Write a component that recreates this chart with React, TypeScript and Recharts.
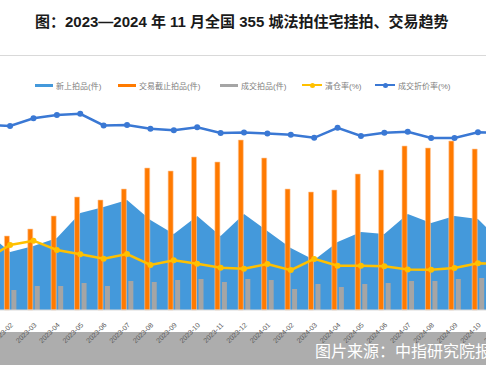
import { ComposedChart, Area, Bar, Line, XAxis, YAxis } from "recharts";

const months = [
  "2023-01", "2023-02", "2023-03", "2023-04", "2023-05", "2023-06", "2023-07", "2023-08",
  "2023-09", "2023-10", "2023-11", "2023-12", "2024-01", "2024-02", "2024-03", "2024-04",
  "2024-05", "2024-06", "2024-07", "2024-08", "2024-09", "2024-10", "2024-11",
];

// 件
const newListings = [
  15600, 11600, 12800, 14400, 19400, 20600, 22000, 18000, 15200, 18800, 14800, 19200,
  15800, 12400, 10000, 13600, 15600, 15200, 19200, 17400, 18800, 18200, 13600,
];
const endedAuctions = [
  12000, 14800, 16200, 18800, 22600, 22000, 24200, 28400, 27800, 30600, 29600, 34000,
  30400, 24200, 23600, 24000, 27200, 28000, 32800, 32400, 33800, 32200, 31000,
];
const deals = [
  3600, 4000, 4800, 4800, 5400, 4800, 5800, 5600, 6000, 6200, 5600, 6200,
  6000, 4200, 5200, 4600, 5200, 5400, 5800, 5800, 6200, 6400, 6000,
];

// %
const clearanceRate = [
  21.9, 27.9, 29.7, 25.7, 23.9, 22.0, 24.0, 19.3, 21.3, 19.8, 18.1, 17.7,
  19.7, 17.1, 21.9, 19.0, 19.0, 18.7, 17.4, 17.3, 18.0, 20.0, 19.7,
];
const discountRate = [
  79.3, 78.9, 82.2, 83.6, 84.1, 79.1, 79.3, 77.7, 77.0, 78.3, 75.9, 76.1,
  75.6, 75.1, 73.8, 78.1, 74.6, 76.0, 76.4, 73.7, 73.7, 76.2, 75.9,
];

const data = months.map((month, i) => ({
  month,
  newListings: newListings[i],
  endedAuctions: endedAuctions[i],
  deals: deals[i],
  clearanceRate: clearanceRate[i],
  discountRate: discountRate[i],
}));

const BLUE_AREA = "#4499db";
const ORANGE = "#ff7a00";
const GRAY = "#a5a5a5";
const YELLOW = "#ffc000";
const BLUE_LINE = "#3a78d4";

const font = "'Liberation Sans', 'Noto Sans CJK SC', sans-serif";

function MonthTick({ x, y, payload }: any) {
  return (
    <g transform={`translate(${x + 2},${y + 6})`}>
      <text x={0} y={0} dy={2} textAnchor="end" transform="rotate(-45)" fontSize={7} fill="#595959" fontFamily={font}>
        {payload.value}
      </text>
    </g>
  );
}

const legendItems = [
  { label: "新上拍品(件)", color: BLUE_AREA, left: 35, kind: "box" },
  { label: "交易截止拍品(件)", color: ORANGE, left: 118, kind: "box" },
  { label: "成交拍品(件)", color: GRAY, left: 220, kind: "box" },
  { label: "清仓率(%)", color: YELLOW, left: 302, kind: "line" },
  { label: "成交折价率(%)", color: BLUE_LINE, left: 375, kind: "line" },
];

export default function App() {
  return (
    <div
      style={{
        position: "fixed",
        left: 0,
        top: 0,
        width: 486,
        height: 365,
        overflow: "hidden",
        background: "#fff",
        fontFamily: font,
      }}
    >
      <div style={{ position: "absolute", left: 0, top: 332, width: 486, height: 33, background: "#adadad" }} />
      <div
        style={{
          position: "absolute",
          left: 35,
          top: 10,
          fontSize: 15,
          fontWeight: 700,
          color: "#1a1a1a",
          whiteSpace: "nowrap",
        }}
      >
        图：2023—2024 年 11 月全国 355 城法拍住宅挂拍、交易趋势
      </div>
      <div style={{ position: "absolute", left: 0, top: 55, width: 486, height: 1, background: "#d9d9d9" }} />

      {legendItems.map((item) => (
        <div
          key={item.label}
          style={{
            position: "absolute",
            left: item.left,
            top: 79,
            height: 12,
            display: "flex",
            alignItems: "center",
            fontSize: 8,
            color: "#808080",
            whiteSpace: "nowrap",
          }}
        >
          {item.kind === "box" ? (
            <span style={{ display: "inline-block", width: 18, height: 3, background: item.color, marginRight: 3 }} />
          ) : (
            <span style={{ position: "relative", display: "inline-block", width: 20, height: 2, background: item.color, marginRight: 3 }}>
              <span
                style={{
                  position: "absolute",
                  left: 7.5,
                  top: -1.5,
                  width: 5,
                  height: 5,
                  borderRadius: "50%",
                  background: item.color,
                }}
              />
            </span>
          )}
          {item.label}
        </div>
      ))}

      <div style={{ position: "absolute", left: -25, top: 0 }}>
        <ComposedChart width={538} height={365} data={data} margin={{ top: 100, right: 0, bottom: 33, left: 0 }} barGap={2}>
          <XAxis
            dataKey="month"
            interval={0}
            height={22}
            tickLine={false}
            axisLine={{ stroke: "#d9d9d9" }}
            tick={<MonthTick />}
          />
          <YAxis yAxisId="left" hide domain={[0, 42000]} />
          <YAxis yAxisId="right" orientation="right" hide domain={[0, 90]} />
          <Area
            yAxisId="left"
            type="linear"
            dataKey="newListings"
            fill={BLUE_AREA}
            fillOpacity={1}
            stroke="none"
            isAnimationActive={false}
          />
          <Bar yAxisId="left" dataKey="endedAuctions" fill={ORANGE} stroke="#ffc9a0" strokeWidth={0.6} barSize={5} isAnimationActive={false} />
          <Bar yAxisId="left" dataKey="deals" fill={GRAY} barSize={5} isAnimationActive={false} />
          <Line
            yAxisId="right"
            type="linear"
            dataKey="clearanceRate"
            stroke={YELLOW}
            strokeWidth={2.5}
            dot={{ r: 3, fill: YELLOW, stroke: YELLOW, strokeWidth: 0 }}
            isAnimationActive={false}
          />
          <Line
            yAxisId="right"
            type="linear"
            dataKey="discountRate"
            stroke={BLUE_LINE}
            strokeWidth={2.5}
            dot={{ r: 3, fill: BLUE_LINE, stroke: BLUE_LINE, strokeWidth: 0 }}
            isAnimationActive={false}
          />
        </ComposedChart>
      </div>

      <div
        style={{
          position: "absolute",
          left: 315,
          top: 338,
          fontSize: 16,
          color: "#ffffff",
          whiteSpace: "nowrap",
          fontFamily: "'Noto Sans CJK SC', sans-serif",
        }}
      >
        图片来源：中指研究院报告
      </div>
    </div>
  );
}
